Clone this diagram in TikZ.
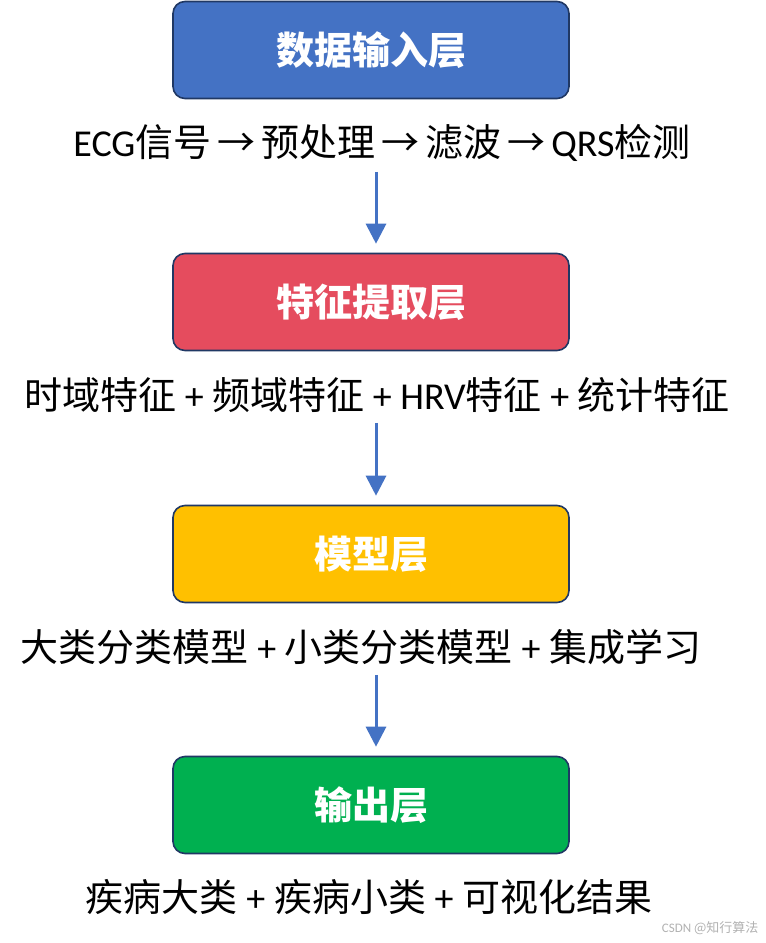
\documentclass[tikz,border=0pt]{standalone}
\usepackage{fontspec}
\setmainfont{Noto Sans CJK SC}
\newfontfamily\lat{Carlito}
\usetikzlibrary{arrows.meta}
\definecolor{layerblue}{HTML}{4472C4}
\definecolor{layerred}{HTML}{E54C5E}
\definecolor{layeryellow}{HTML}{FFC000}
\definecolor{layergreen}{HTML}{00B050}
\definecolor{boxline}{HTML}{203864}
\newcommand\plus{{\lat\ +\ }}
\newcommand\flow{\hspace{6pt}→\hspace{6pt}}
\tikzset{
  layer/.style={draw=boxline,line width=1.6pt,rounded corners=12pt,minimum width=396pt,minimum height=97pt,
    text=white,font=\fontsize{38}{40}\selectfont\bfseries},
  flowtext/.style={font=\fontsize{38}{42}\selectfont,inner sep=0pt},
  flowarrow/.style={draw=layerblue,line width=3pt,-{Triangle[width=20pt,length=20pt]},shorten <=10pt,shorten >=9pt},
}
\begin{document}
\begin{tikzpicture}[x=1pt,y=-1pt]
    \useasboundingbox[fill=white] (0,0) rectangle (766,943);
    \node[layer,fill=layerblue] (input) at (371,50) {数据输入层};
    \node[flowtext] (inputtext) at (382,143) {{\lat ECG}信号\flow 预处理\flow 滤波\flow{\lat QRS}检测};
    \node[layer,fill=layerred] (feature) at (371,302) {特征提取层};
    \node[flowtext] (featuretext) at (377,395) {时域特征\plus 频域特征\plus{\lat HRV}特征\plus 统计特征};
    \node[layer,fill=layeryellow] (model) at (371,554) {模型层};
    \node[flowtext] (modeltext) at (361,647) {大类分类模型\plus 小类分类模型\plus 集成学习};
    \node[layer,fill=layergreen] (output) at (371,805) {输出层};
    \node[flowtext] (outputtext) at (369,897) {疾病大类\plus 疾病小类\plus 可视化结果};
    \node[font=\fontsize{13}{15}\selectfont,text=black!30,anchor=east] (mark) at (762,928) {{\lat CSDN} @知行算法};
    \draw[flowarrow] ([xshift=5pt]feature.north |- inputtext.south) -- ([xshift=5pt]feature.north);
    \draw[flowarrow] ([xshift=5pt]model.north |- featuretext.south) -- ([xshift=5pt]model.north);
    \draw[flowarrow] ([xshift=5pt]output.north |- modeltext.south) -- ([xshift=5pt]output.north);
\end{tikzpicture}
\end{document}
